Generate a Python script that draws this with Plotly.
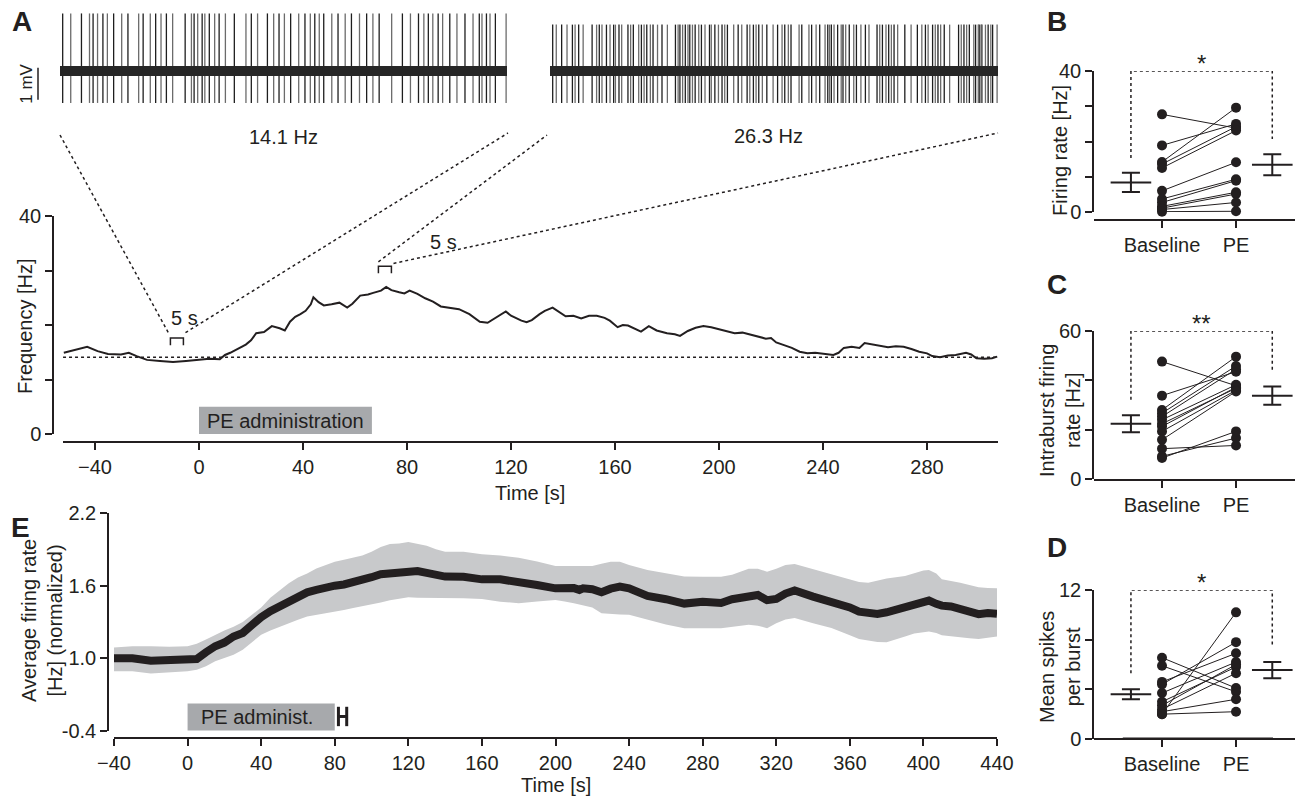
import plotly.graph_objects as go

W, H = 1297, 800
INK = "#231f20"
FONT = "Liberation Sans, Arial, Helvetica, sans-serif"
FS = 20

def px(x):
    return x / W

def py(y):
    return 1 - y / H

# ---------------- DATA ----------------
# Panel A: example spike trains (spike times in s within a 5 s window)
spikes_baseline = [0.03, 0.12, 0.24, 0.33, 0.37, 0.42, 0.48, 0.53, 0.60, 0.69, 0.76, 0.88, 0.93,
                   1.01, 1.07, 1.13, 1.19, 1.26, 1.40, 1.47, 1.50, 1.54, 1.59, 1.62, 1.67, 1.73,
                   1.78, 1.85, 1.95, 2.08, 2.14, 2.21, 2.32, 2.39, 2.45, 2.51, 2.58, 2.67, 2.74,
                   2.80, 2.85, 2.90, 2.95, 3.04, 3.11, 3.19, 3.26, 3.35, 3.43, 3.50, 3.57, 3.71,
                   3.83, 3.92, 4.01, 4.07, 4.12, 4.17, 4.23, 4.28, 4.36, 4.44, 4.53, 4.62, 4.69,
                   4.72, 4.77, 4.81, 4.87, 4.99]
spikes_pe = [0.03, 0.07, 0.13, 0.19, 0.25, 0.28, 0.32, 0.37, 0.47, 0.52, 0.55, 0.58, 0.63, 0.67,
             0.71, 0.73, 0.77, 0.80, 0.87, 0.90, 0.93, 0.99, 1.02, 1.05, 1.08, 1.12, 1.15, 1.20,
             1.25, 1.31, 1.40, 1.43, 1.45, 1.48, 1.51, 1.54, 1.56, 1.59, 1.62, 1.66, 1.69, 1.73,
             1.78, 1.80, 1.84, 1.88, 1.92, 1.95, 1.98, 2.05, 2.10, 2.14, 2.20, 2.23, 2.27, 2.30,
             2.33, 2.37, 2.42, 2.49, 2.54, 2.59, 2.62, 2.66, 2.69, 2.78, 2.81, 2.89, 2.92, 2.97,
             3.01, 3.07, 3.10, 3.12, 3.14, 3.17, 3.21, 3.25, 3.27, 3.30, 3.34, 3.39, 3.42, 3.47,
             3.52, 3.56, 3.65, 3.68, 3.71, 3.75, 3.78, 3.81, 3.84, 3.88, 3.96, 4.03, 4.10, 4.15,
             4.19, 4.22, 4.27, 4.30, 4.33, 4.36, 4.40, 4.46, 4.56, 4.59, 4.62, 4.65, 4.68, 4.73,
             4.75, 4.78, 4.79, 4.81, 4.82, 4.86, 4.89, 4.92, 4.94, 4.99]
spike_up_baseline, spike_down_baseline = 1.8, 1.0   # mV
spike_up_pe, spike_down_pe = 1.45, 1.0             # mV
rate_baseline_label = "14.1 Hz"
rate_pe_label = "26.3 Hz"

# Panel A: instantaneous frequency trace
freq_t = [-52, -48, -43, -39, -35, -30, -27, -24, -20, -15, -10, -5, 0, 4, 8, 10, 12, 15, 18, 20,
          22, 25, 28, 31, 33, 35, 37, 39, 41, 43, 44, 46, 48, 51, 54, 57, 59, 62, 65, 67, 70, 72,
          74, 77, 79, 81, 84, 87, 90, 93, 96, 100, 104, 108, 111, 113, 116, 118, 120, 122, 124,
          126, 128, 131, 133, 136, 138, 141, 144, 147, 150, 153, 156, 158, 161, 163, 165, 168,
          170, 173, 176, 180, 183, 185, 188, 191, 194, 197, 200, 203, 206, 209, 212, 215, 218,
          220, 222, 225, 228, 231, 234, 237, 241, 244, 246, 248, 251, 254, 256, 259, 262, 265,
          268, 271, 274, 277, 280, 282, 285, 288, 291, 295, 297, 299, 302, 305, 307]
freq_hz = [14.9, 15.4, 16.0, 15.2, 14.7, 14.6, 14.9, 14.3, 13.6, 13.4, 13.2, 13.4, 13.6, 13.8,
           13.7, 14.5, 14.9, 15.6, 16.4, 17.2, 18.5, 18.7, 19.8, 19.4, 19.0, 20.6, 21.5, 22.0,
           22.6, 23.8, 25.1, 24.2, 23.6, 23.8, 24.1, 23.2, 23.9, 25.4, 25.6, 25.9, 26.3, 27.0,
           26.4, 26.0, 25.8, 26.3, 25.7, 24.9, 24.3, 23.4, 23.2, 22.9, 22.0, 20.6, 20.4, 21.0,
           21.8, 22.5, 21.7, 21.2, 20.8, 20.5, 20.9, 22.0, 22.6, 23.2, 22.5, 21.6, 21.7, 21.2,
           21.7, 21.7, 21.3, 20.8, 19.6, 20.0, 19.9, 19.2, 18.8, 19.8, 19.0, 18.5, 18.3, 18.0,
           18.9, 19.5, 19.8, 19.6, 19.2, 18.9, 18.5, 18.6, 18.2, 17.9, 17.5, 17.6, 16.8, 16.3,
           15.8, 15.1, 14.8, 14.9, 14.7, 14.5, 14.9, 15.8, 16.0, 15.8, 16.7, 16.4, 16.2, 15.9,
           16.1, 16.0, 15.6, 15.1, 14.8, 14.3, 14.1, 14.4, 14.5, 14.9, 14.6, 13.9, 13.8, 13.9,
           14.2]
baseline_freq = 14.1
window1_start, window2_start, window_len = -11, 69, 5
pe_admin_A = (0, 66.5)

# Panel E: normalized average firing rate (mean and SEM band)
e_t = [-40, -30, -20, -10, 0, 5, 10, 15, 20, 25, 30, 35, 40, 45, 50, 55, 60, 65, 70, 75, 80, 85,
       90, 95, 100, 105, 110, 115, 120, 125, 130, 135, 140, 150, 160, 170, 180, 190, 200, 205,
       210, 213, 215, 220, 225, 230, 235, 240, 250, 260, 270, 280, 290, 296, 300, 305, 310, 315,
       320, 325, 330, 340, 350, 360, 365, 370, 375, 380, 390, 395, 400, 403, 407, 410, 415, 420,
       425, 430, 435, 440]
e_mean = [1.0, 1.0, 0.98, 0.99, 1.0, 0.995, 1.05, 1.10, 1.13, 1.18, 1.21, 1.28, 1.34, 1.39, 1.43,
          1.48, 1.51, 1.545, 1.565, 1.586, 1.60, 1.61, 1.625, 1.64, 1.67, 1.695, 1.705, 1.71,
          1.725, 1.72, 1.705, 1.69, 1.675, 1.674, 1.652, 1.652, 1.634, 1.605, 1.578, 1.582, 1.58,
          1.565, 1.578, 1.57, 1.545, 1.575, 1.592, 1.578, 1.515, 1.488, 1.452, 1.468, 1.457,
          1.488, 1.495, 1.51, 1.523, 1.48, 1.49, 1.535, 1.56, 1.51, 1.47, 1.42, 1.385, 1.368,
          1.367, 1.38, 1.42, 1.438, 1.46, 1.477, 1.45, 1.435, 1.428, 1.405, 1.38, 1.365, 1.375,
          1.367]
e_upper = [1.09, 1.10, 1.10, 1.095, 1.10, 1.12, 1.155, 1.195, 1.23, 1.26, 1.30, 1.36, 1.42, 1.50,
           1.56, 1.62, 1.668, 1.70, 1.742, 1.77, 1.797, 1.815, 1.83, 1.85, 1.88, 1.92, 1.945,
           1.948, 1.96, 1.945, 1.93, 1.90, 1.88, 1.88, 1.86, 1.85, 1.83, 1.80, 1.762, 1.762,
           1.762, 1.762, 1.762, 1.762, 1.78, 1.797, 1.797, 1.77, 1.73, 1.70, 1.675, 1.674, 1.674,
           1.69, 1.71, 1.74, 1.74, 1.715, 1.74, 1.77, 1.778, 1.735, 1.69, 1.647, 1.63, 1.625,
           1.64, 1.66, 1.68, 1.70, 1.725, 1.729, 1.70, 1.652, 1.64, 1.625, 1.605, 1.586, 1.58,
           1.578]
e_lower = [0.893, 0.893, 0.874, 0.885, 0.893, 0.905, 0.935, 0.975, 1.0, 1.03, 1.07, 1.13, 1.195,
           1.23, 1.26, 1.29, 1.318, 1.345, 1.36, 1.375, 1.386, 1.40, 1.415, 1.427, 1.445, 1.462,
           1.48, 1.495, 1.504, 1.50, 1.496, 1.496, 1.496, 1.496, 1.49, 1.468, 1.455, 1.47, 1.482,
           1.47, 1.455, 1.447, 1.44, 1.42, 1.373, 1.365, 1.362, 1.359, 1.32, 1.28, 1.249, 1.249,
           1.249, 1.26, 1.268, 1.277, 1.27, 1.249, 1.29, 1.32, 1.332, 1.29, 1.25, 1.19, 1.16,
           1.145, 1.135, 1.132, 1.18, 1.205, 1.215, 1.222, 1.21, 1.19, 1.18, 1.175, 1.165, 1.159,
           1.17, 1.181]
pe_admin_E = (0, 80)

# Panels B-D: paired cells, Baseline vs PE
categories = ["Baseline", "PE"]
B_base = [27.7, 18.9, 14.2, 13.6, 12.5, 6.0, 3.7, 2.7, 1.6, 1.1, 0.7, 0.1]
B_pe = [23.8, 25.0, 29.6, 24.2, 23.1, 14.1, 9.3, 8.9, 5.6, 5.1, 2.7, 0.2]
B_mean, B_sem = [8.4, 13.4], [2.7, 3.0]
C_base = [47.6, 33.8, 28.0, 26.7, 25.3, 24.0, 22.4, 21.3, 19.3, 15.9, 12.3, 9.2, 8.5]
C_pe = [37.8, 43.5, 49.6, 45.8, 44.5, 38.2, 36.8, 37.2, 36.0, 35.5, 13.6, 16.6, 19.3]
C_mean, C_sem = [22.4, 33.8], [3.4, 3.7]
D_base = [6.55, 5.9, 4.6, 4.4, 3.7, 3.0, 2.7, 2.4, 2.2, 2.0, 2.0]
D_pe = [4.1, 3.8, 6.9, 7.8, 6.2, 5.8, 6.0, 5.3, 3.2, 10.2, 2.2]
D_mean, D_sem = [3.6, 5.55], [0.4, 0.65]
sig_labels = {"B": "*", "C": "**", "D": "*"}

# ---------------- FIGURE ----------------
fig = go.Figure()

def spike_xy(times, up, down):
    xs, ys = [], []
    for t in times:
        xs += [t, t, None]
        ys += [-down, up, None]
    return xs, ys

for i, (sp, up, dn) in enumerate([(spikes_baseline, spike_up_baseline, spike_down_baseline),
                                  (spikes_pe, spike_up_pe, spike_down_pe)]):
    ax = "" if i == 0 else "2"
    for k, col in enumerate(["#1e1e1e", "#6b6b6b"]):
        xs, ys = spike_xy(sp[k::2], up, dn)
        fig.add_trace(go.Scatter(x=xs, y=ys, mode="lines", line=dict(color=col, width=1.3),
                                 xaxis="x" + ax, yaxis="y" + ax, hoverinfo="skip",
                                 showlegend=False))
    fig.add_trace(go.Scatter(x=[0, window_len], y=[0, 0], mode="lines",
                             line=dict(color="#262626", width=10), xaxis="x" + ax,
                             yaxis="y" + ax, hoverinfo="skip", showlegend=False))

# frequency trace
fig.add_trace(go.Scatter(x=freq_t, y=freq_hz, mode="lines", line=dict(color=INK, width=2),
                         xaxis="x3", yaxis="y3", showlegend=False))
fig.add_trace(go.Scatter(x=[-52.3, 307.3], y=[baseline_freq] * 2, mode="lines",
                         line=dict(color=INK, width=1.5, dash="dot"), xaxis="x3", yaxis="y3",
                         showlegend=False))

# panel E band + mean
fig.add_trace(go.Scatter(x=e_t + e_t[::-1], y=e_upper + e_lower[::-1], fill="toself",
                         fillcolor="#c8c9cb", line=dict(width=0), mode="lines",
                         xaxis="x4", yaxis="y4", hoverinfo="skip", showlegend=False))
fig.add_trace(go.Scatter(x=e_t, y=e_mean, mode="lines", line=dict(color=INK, width=8),
                         xaxis="x4", yaxis="y4", showlegend=False))

# panels B-D
MEAN_X = [0.58, 2.49]
shapes = []
annotations = []
panels = [("5", B_base, B_pe, B_mean, B_sem, (15.3, 40, 20.7), 40, "B"),
          ("6", C_base, C_pe, C_mean, C_sem, (32.1, 60, 43.6), 60, "C"),
          ("7", D_base, D_pe, D_mean, D_sem, (5.3, 12, 7.4), 12, "D")]
for ax, base, pe, mean, sem, brk, ymax, key in panels:
    lx, ly = [], []
    for b, p in zip(base, pe):
        lx += [1, 2, None]
        ly += [b, p, None]
    fig.add_trace(go.Scatter(x=lx, y=ly, mode="lines", line=dict(color=INK, width=1),
                             xaxis="x" + ax, yaxis="y" + ax, showlegend=False, hoverinfo="skip"))
    fig.add_trace(go.Scatter(x=[1] * len(base) + [2] * len(pe), y=base + pe, mode="markers",
                             marker=dict(color=INK, size=10), cliponaxis=False,
                             xaxis="x" + ax, yaxis="y" + ax, showlegend=False))
    fig.add_trace(go.Scatter(x=MEAN_X, y=mean, mode="markers",
                             marker=dict(symbol="line-ew", size=29,
                                         line=dict(color=INK, width=2)),
                             error_y=dict(type="data", array=sem, color=INK, thickness=2, width=9),
                             xaxis="x" + ax, yaxis="y" + ax, showlegend=False, cliponaxis=False))
    y0, ytop, y1 = brk
    shapes.append(dict(type="path", xref="x" + ax, yref="y" + ax,
                       path=f"M {MEAN_X[0]} {y0} L {MEAN_X[0]} {ytop} L {MEAN_X[1]} {ytop} L {MEAN_X[1]} {y1}",
                       line=dict(color=INK, width=1.5, dash="dot")))
    annotations.append(dict(x=(MEAN_X[0] + MEAN_X[1]) / 2, y=ytop, xref="x" + ax, yref="y" + ax,
                            text=sig_labels[key], showarrow=False, xanchor="center",
                            yanchor="bottom", yshift=-8,
                            font=dict(size=24, color=INK, family=FONT)))

# thick zero segment in D
shapes.append(dict(type="line", xref="x7", yref="y7", x0=0.47, x1=2.5, y0=0, y1=0,
                   line=dict(color=INK, width=3)))

# ------ Panel A annotations / shapes ------
A_X = (-52.31, 307.3, 63, 998)
A_Y = (0, 40, 434, 216)

def a_to_px(t, f):
    x = A_X[2] + (t - A_X[0]) / (A_X[1] - A_X[0]) * (A_X[3] - A_X[2])
    y = A_Y[2] + (f - A_Y[0]) / (A_Y[1] - A_Y[0]) * (A_Y[3] - A_Y[2])
    return x, y

def bracket(t0, ytop, ydrop):
    t1 = t0 + window_len
    shapes.append(dict(type="path", xref="x3", yref="y3",
                       path=f"M {t0} {ydrop} L {t0} {ytop} L {t1} {ytop} L {t1} {ydrop}",
                       line=dict(color=INK, width=1.5)))

def label(x, y, text, xref="paper", yref="paper", size=FS, angle=0):
    annotations.append(dict(x=x, y=y, xref=xref, yref=yref, text=text, textangle=angle,
                            showarrow=False, xanchor="center", yanchor="middle",
                            font=dict(size=size, color=INK, family=FONT)))

bracket(window1_start, 17.6, 16.3)
bracket(window2_start, 30.8, 29.5)
label(window1_start + 5.5, 21.3, "5 s", "x3", "y3")
label(window2_start + 25, 35.2, "5 s", "x3", "y3")

TRACE_BOTTOM = 133
L1 = [(60, 135), a_to_px(window1_start - 0.8, 18.6)]
L2 = [a_to_px(window1_start + window_len + 0.8, 18.6), (508, TRACE_BOTTOM)]
L3 = [a_to_px(window2_start, 31.6), (547, 135)]
L4 = [a_to_px(window2_start + window_len + 0.8, 31.3), (998, TRACE_BOTTOM)]
for (xa, ya), (xb, yb) in [L1, L2, L3, L4]:
    shapes.append(dict(type="line", xref="paper", yref="paper", x0=px(xa), y0=py(ya),
                       x1=px(xb), y1=py(yb), line=dict(color=INK, width=1.5, dash="dot")))

# PE administration boxes
shapes.append(dict(type="rect", xref="x3", yref="y3", x0=pe_admin_A[0], x1=pe_admin_A[1],
                   y0=-0.2, y1=5.0, fillcolor="#a7a9ac", line=dict(width=0), layer="below"))
label(sum(pe_admin_A) / 2, 2.4, "PE administration", "x3", "y3")
shapes.append(dict(type="rect", xref="x4", yref="y4", x0=pe_admin_E[0], x1=pe_admin_E[1],
                   y0=0.405, y1=0.627, fillcolor="#a7a9ac", line=dict(width=0), layer="below"))
label(38, 0.515, "PE administ.", "x4", "y4")
for xv in [82, 86.5]:
    shapes.append(dict(type="line", xref="x4", yref="y4", x0=xv, x1=xv, y0=0.44, y1=0.6,
                       line=dict(color=INK, width=3)))
shapes.append(dict(type="line", xref="x4", yref="y4", x0=82, x1=86.5, y0=0.52, y1=0.52,
                   line=dict(color=INK, width=3)))

# 1 mV scale bar
shapes.append(dict(type="line", xref="paper", yref="y", x0=px(38), x1=px(38), y0=-0.9, y1=0.1,
                   line=dict(color=INK, width=1.5)))
label(px(27), -0.4, "1 mV", "paper", "y", size=17, angle=-90)

label(px(283), py(137), rate_baseline_label)
label(px(768), py(136), rate_pe_label)

# axis titles
label(px(25), py(326), "Frequency [Hz]", angle=-90)
label(px(530), py(493), "Time [s]")
label(px(42), py(621), "Average firing rate<br>[Hz] (normalized)", angle=-90)
label(px(556), py(785), "Time [s]")
label(px(1060), py(151), "Firing rate [Hz]", angle=-90)
label(px(1060), py(411), "Intraburst firing<br>rate [Hz]", angle=-90)
label(px(1060), py(667), "Mean spikes<br>per burst", angle=-90)

for letter, (x, y) in {"A": (22, 22), "B": (1057, 22), "C": (1057, 285), "D": (1057, 547),
                       "E": (20, 527)}.items():
    label(px(x), py(y), f"<b>{letter}</b>", size=28)

# ---------------- AXES ----------------
hidden = dict(visible=False, showgrid=False, zeroline=False, fixedrange=True, automargin=False)
axis_common = dict(showgrid=False, zeroline=False, showline=True, linecolor=INK, linewidth=1.5,
                   ticks="outside", ticklen=7, tickwidth=1.5, tickcolor=INK, automargin=False,
                   tickfont=dict(size=FS, color=INK, family=FONT))

layout = dict(
    width=W, height=H, margin=dict(l=0, r=0, t=0, b=0, autoexpand=False),
    paper_bgcolor="white", plot_bgcolor="rgba(0,0,0,0)", showlegend=False,
    font=dict(family=FONT, color=INK, size=FS),
    xaxis=dict(domain=[px(60), px(507)], range=[0, 5], anchor="y", **hidden),
    yaxis=dict(domain=[py(125), py(0)], range=[-1.69, 2.22], anchor="x", **hidden),
    xaxis2=dict(domain=[px(550), px(998)], range=[0, 5], anchor="y2", **hidden),
    yaxis2=dict(domain=[py(125), py(0)], range=[-1.69, 2.22], anchor="x2", **hidden),
    xaxis3=dict(domain=[px(A_X[2]), px(A_X[3])], range=[A_X[0], A_X[1]], anchor="free",
                position=py(442), tickvals=list(range(-40, 281, 40)), **axis_common),
    yaxis3=dict(domain=[py(434), py(216)], range=[0, 40], anchor="free", position=px(53),
                tickvals=[0, 10, 20, 30, 40], ticktext=["0", "", "", "", "40"], **axis_common),
    xaxis4=dict(domain=[px(114), px(997)], range=[-40, 440], anchor="free", position=py(738),
                tickvals=list(range(-40, 441, 40)), **axis_common),
    yaxis4=dict(domain=[py(731), py(513)], range=[0.4, 2.2], anchor="free", position=px(108),
                tickvals=[0.4, 1.0, 1.6, 2.2], ticktext=["-0.4", "1.0", "1.6", "2.2"],
                **axis_common),
)
for ax, (ytop, ybot), ymax, ticks, xpos in [("5", (71, 212), 40, [0, 10, 20, 30, 40], 220),
                                            ("6", (331, 479), 60, [0, 20, 40, 60], 480),
                                            ("7", (590, 739), 12, [0, 4, 8, 12], 739)]:
    ttext = [str(ticks[0])] + [""] * (len(ticks) - 2) + [str(ticks[-1])]
    layout["xaxis" + ax] = dict(domain=[px(1094), px(1295)], range=[0.081, 2.797],
                                anchor="free", position=py(xpos), tickvals=[1, 2],
                                ticktext=categories, **axis_common)
    layout["yaxis" + ax] = dict(domain=[py(ybot), py(ytop)], range=[0, ymax], anchor="x" + ax,
                                tickvals=ticks, ticktext=ttext, **axis_common)

layout["shapes"] = shapes
layout["annotations"] = annotations
fig.update_layout(**layout)

fig.write_html("out.html", config={"displayModeBar": False},
               post_script="document.body.style.margin='0';")
